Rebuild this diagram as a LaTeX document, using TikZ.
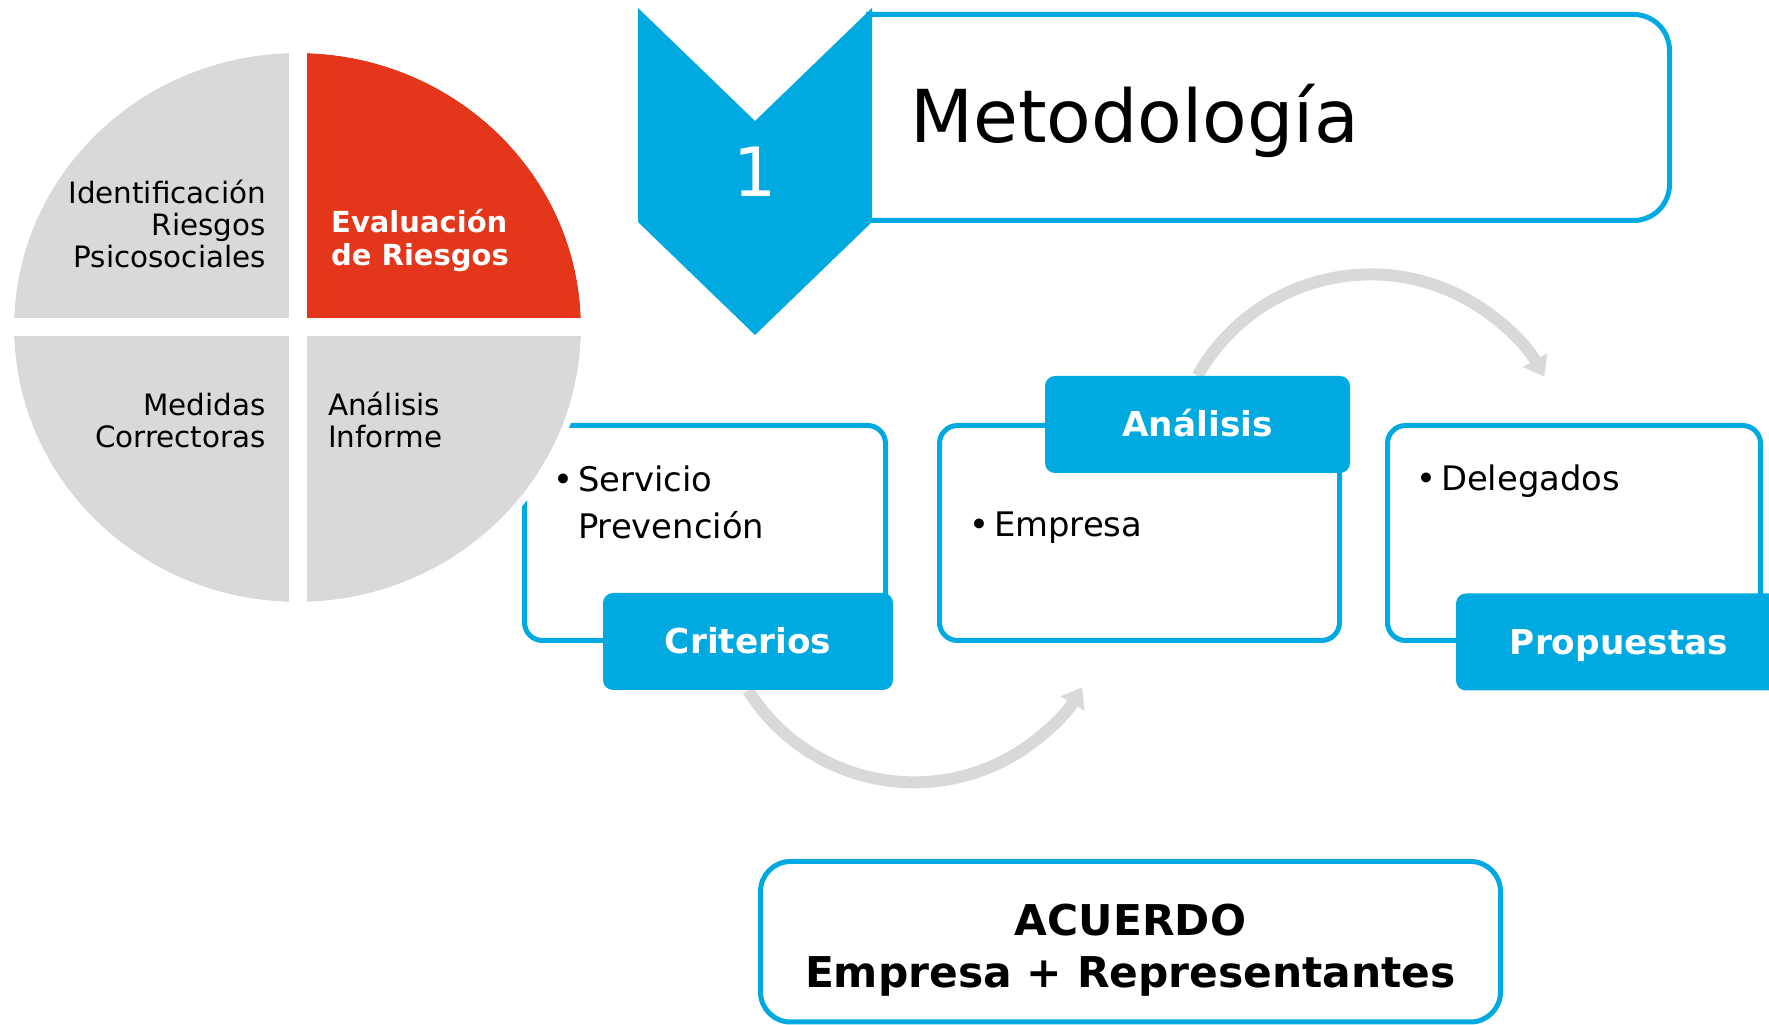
\documentclass[tikz,border=0pt]{standalone}
\usepackage{fontspec}
\setmainfont{DejaVu Sans}
\usetikzlibrary{arrows.meta,backgrounds}
\definecolor{azul}{RGB}{0,169,224}
\definecolor{rojo}{RGB}{227,54,26}
\definecolor{gris}{RGB}{217,217,217}
\tikzset{
  caja/.style={draw=azul,line width=5pt,fill=white,rounded corners=18pt,minimum width=#1,minimum height=215pt,inner sep=0pt},
  pestana/.style={fill=azul,rounded corners=10pt,minimum width=#1,minimum height=97pt,inner sep=0pt,text=white,font=\fontsize{34.3}{40}\selectfont\bfseries,text height=25pt,text depth=0pt},
  punto/.style={font=\fontsize{33.8}{47}\selectfont,align=left,inner sep=0pt},
  sector/.style={font=\fontsize{29.4}{32}\selectfont,inner sep=0pt},
  flecha/.style={gris,line width=12pt,-{Triangle[width=27pt,length=19pt]}}
}
\begin{document}
\begin{tikzpicture}[x=1pt,y=1pt,line join=round]
            \useasboundingbox (0,0) rectangle (1769,1025);
            \clip (0,0) rectangle (1769,1025);
            % titulo
            \draw[azul,line width=5pt,rounded corners=36pt] (866,1010.5)--(1669.5,1010.5)--(1669.5,804.5)--(866,804.5);
            \node[anchor=base west,inner sep=0pt,font=\fontsize{73}{80}\selectfont] (metodo) at (910,882) {Metodología};
            \fill[azul] (638,1017)--(755,904)--(872,1017)--(872,803)--(755,690)--(638,803)--cycle;
            \node[anchor=base,inner sep=0pt,text=white,font=\fontsize{68}{70}\selectfont] (uno) at (755,828) {1};
            % cajas
            \node[caja=361pt] (crit) at (705,492) {};
            \node[caja=400pt] (anal) at (1139.5,492) {};
            \node[caja=373pt] (dele) at (1574,492) {};
            \node[pestana=290pt] (criterios) at (748,383.5) {Criterios};
            \node[pestana=305pt] (analisis) at (1197.5,600.5) {Análisis};
            \node[pestana=326pt] (propuestas) at (1619,383) {Propuestas};
            \node[punto,anchor=north west] (servicio) at (553,559.5) {\textbullet\hspace{5pt}Servicio\\\phantom{\textbullet}\hspace{5pt}Prevención};
            \node[punto,anchor=base west] (empresa) at (969,488) {\textbullet\hspace{5pt}Empresa};
            \node[punto,anchor=base west] (delegados) at (1416,534) {\textbullet\hspace{5pt}Delegados};
            \begin{scope}[on background layer]
            \draw[flecha] (criterios.south) arc[start angle=212,end angle=329,radius=196];
            \draw[flecha] (analisis.north) arc[start angle=150.7,end angle=29,radius=198.5];
            \end{scope}
            % circulo
            \fill[gris] (297.5,697.5) ellipse [x radius=283.5,y radius=274.5];
            \fill[rojo] (297.5,697.5)--(581,697.5) arc[start angle=0,end angle=90,x radius=283.5,y radius=274.5]--cycle;
            \draw[white,line width=7pt] (297.5,697.5) ellipse [x radius=287,y radius=278];
            \draw[white,line width=18pt] (14,697.5)--(581,697.5) (297.5,423)--(297.5,972);
            \node[sector,anchor=north east,align=right] (ident) at (266,845.5) {Identificación\\Riesgos\\Psicosociales};
            \node[sector,anchor=north west,align=left,text=white,font=\fontsize{29}{33}\selectfont\bfseries] (evalua) at (331,816.2) {Evaluación\\de Riesgos};
            \node[sector,anchor=north east,align=right] (medidas) at (266,632.4) {Medidas\\Correctoras};
            \node[sector,anchor=north west,align=left] (informe) at (328,633.5) {Análisis\\Informe};
            % acuerdo
            \node[draw=azul,line width=5pt,fill=white,rounded corners=30pt,minimum width=740pt,minimum height=160.5pt,inner sep=0pt] (acuerdo) at (1130.5,83.25) {};
            \node[align=center,inner sep=0pt,font=\fontsize{42.4}{52}\selectfont\bfseries] (acuerdotxt) at (1130.5,74.4) {ACUERDO\\Empresa + Representantes};
        \end{tikzpicture}
\end{document}
